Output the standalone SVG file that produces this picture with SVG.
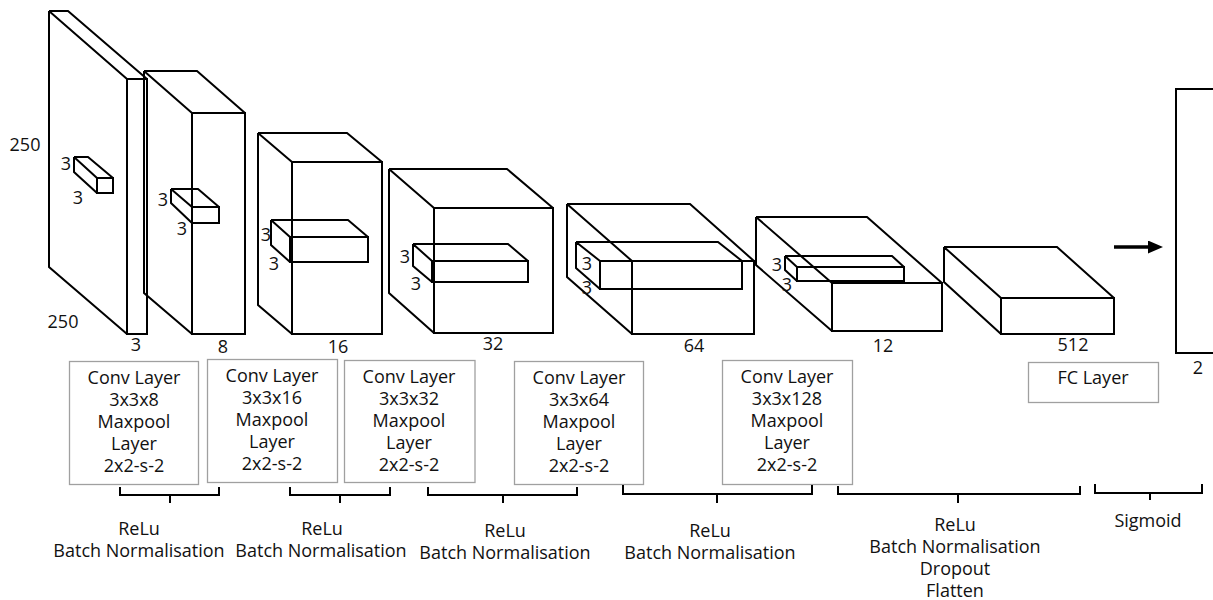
<svg xmlns="http://www.w3.org/2000/svg" width="1213" height="600" viewBox="0 0 1213 600">
<style>
.e{fill:none;stroke:#000;stroke-width:2;stroke-linejoin:miter}
.k{fill:none;stroke:#000;stroke-width:2}
.b{fill:#fff;stroke:#a0a0a0;stroke-width:1.3}
.br{fill:none;stroke:#000;stroke-width:2}
text{font-family:"Open Sans","Liberation Sans",sans-serif;font-size:18px;fill:#111;text-anchor:middle}
</style>
<defs>
<marker id="ah" markerUnits="userSpaceOnUse" markerWidth="16" markerHeight="13" refX="0" refY="6.5" orient="auto">
<path d="M0,0 L15,6.5 L0,13 z" fill="#000"/>
</marker>
</defs>
<rect width="1213" height="600" fill="#fff"/>

<g id="layer1">
<path class="e" d="M49,11 H68 L147,79 M49,11 L127,79 M49,11 V267 L127,334 M127,79 H147 V334 H127 Z"/>
<path class="k" d="M74,157 H88 L113,178 M74,157 L97,178 M74,157 V172 L97,193 M97,178 H113 V193 H97 Z"/>
<text x="66" y="170">3</text>
<text x="78" y="204">3</text>
<text x="25" y="151">250</text>
<text x="63" y="328">250</text>
<text x="136" y="351">3</text>
</g>

<g id="layer2">
<path class="e" d="M144,71 H197 L245,113 M144,71 L192,113 M144,71 V293 L192,334 M192,113 H245 V334 H192 Z"/>
<path class="k" d="M171,189 H198 L219,207 M171,189 L192,207 M171,189 V203 L192,223 M192,207 H219 V223 H192 Z"/>
<text x="163" y="206">3</text>
<text x="182" y="235">3</text>
<text x="223" y="353">8</text>
</g>

<g id="layer3">
<path class="e" d="M258,133 H347 L382,162 M258,133 L292,162 M258,133 V305 L292,334 M292,162 H382 V334 H292 Z"/>
<path class="k" d="M271,220 H348 L368,237 M271,220 L290,237 M271,220 V245 L290,262 M290,237 H368 V262 H290 Z"/>
<text x="266" y="241">3</text>
<text x="274" y="270">3</text>
<text x="338" y="353">16</text>
</g>

<g id="layer4">
<path class="e" d="M389,169 H507 L553,208 M389,169 L434,208 M389,169 V293 L434,333 M434,208 H553 V333 H434 Z"/>
<path class="k" d="M413,244 H508 L528,261 M413,244 L432,261 M413,244 V266 L432,282 M432,261 H528 V282 H432 Z"/>
<text x="405" y="263">3</text>
<text x="416" y="290">3</text>
<text x="493" y="350">32</text>
</g>

<g id="layer5">
<path class="e" d="M567,204 H690 L754,261 M567,204 L632,261 M567,204 V277 L632,334 M632,261 H754 V334 H632 Z"/>
<path class="k" d="M576,242 H718 L742,261 M576,242 L600,261 M576,242 V268 L600,289 M600,261 H742 V289 H600 Z"/>
<text x="587" y="270">3</text>
<text x="587" y="294">3</text>
<text x="694" y="352">64</text>
</g>

<g id="layer6">
<path class="e" d="M756,217 H867 L942,283 M756,217 L832,283 M756,217 V265 L832,331 M832,283 H942 V331 H832 Z"/>
<path class="k" d="M785,256 H892 L904,267 M785,256 L797,267 M785,256 V270 L797,281 M797,267 H904 V281 H797 Z"/>
<text x="777" y="271">3</text>
<text x="787" y="291">3</text>
<text x="883" y="352">12</text>
</g>

<g id="layer7">
<path class="e" d="M944,247 H1057 L1114,298 M944,247 L1001,298 M944,247 V282 L1001,334 M1001,298 H1114 V334 H1001 Z"/>
<text x="1073" y="351">512</text>
</g>

<g id="output">
<rect class="e" x="1176" y="89" width="60" height="264"/>
<text x="1198" y="374">2</text>
</g>

<g id="box1">
<rect class="b" x="69.5" y="361.5" width="129" height="123"/>
<text x="134" y="384">Conv Layer</text>
<text x="134" y="406">3x3x8</text>
<text x="134" y="428">Maxpool</text>
<text x="134" y="450">Layer</text>
<text x="134" y="472">2x2-s-2</text>
</g>
<g id="box2">
<rect class="b" x="207.5" y="359.5" width="130" height="123"/>
<text x="272" y="382">Conv Layer</text>
<text x="272" y="404">3x3x16</text>
<text x="272" y="426">Maxpool</text>
<text x="272" y="448">Layer</text>
<text x="272" y="470">2x2-s-2</text>
</g>
<g id="box3">
<rect class="b" x="344.5" y="360.5" width="130.5" height="122"/>
<text x="409" y="383">Conv Layer</text>
<text x="409" y="405">3x3x32</text>
<text x="409" y="427">Maxpool</text>
<text x="409" y="449">Layer</text>
<text x="409" y="471">2x2-s-2</text>
</g>
<g id="box4">
<rect class="b" x="514.5" y="361.5" width="129" height="123"/>
<text x="579" y="384">Conv Layer</text>
<text x="579" y="406">3x3x64</text>
<text x="579" y="428">Maxpool</text>
<text x="579" y="450">Layer</text>
<text x="579" y="472">2x2-s-2</text>
</g>
<g id="box5">
<rect class="b" x="722.5" y="360.5" width="130" height="124"/>
<text x="787" y="383">Conv Layer</text>
<text x="787" y="405">3x3x128</text>
<text x="787" y="427">Maxpool</text>
<text x="787" y="449">Layer</text>
<text x="787" y="471">2x2-s-2</text>
</g>
<g id="fc">
<rect class="b" x="1028.5" y="362.5" width="130" height="40"/>
<text x="1093" y="384">FC Layer</text>
</g>

<g id="activations">
<path class="br" d="M120,487 V495 H219 V487 M170,495 V503"/>
<text x="139" y="534.5">ReLu</text>
<text x="139" y="556.5">Batch Normalisation</text>
<path class="br" d="M290,487 V495 H390 V487 M340,495 V503"/>
<text x="322" y="534.5">ReLu</text>
<text x="321" y="556.5">Batch Normalisation</text>
<path class="br" d="M428,487 V495 H577 V487 M503,495 V503"/>
<text x="505" y="536.5">ReLu</text>
<text x="505" y="558.5">Batch Normalisation</text>
<path class="br" d="M623,485 V494 H812 V485 M717,494 V503"/>
<text x="710" y="536.5">ReLu</text>
<text x="710" y="558.5">Batch Normalisation</text>
<path class="br" d="M838,486 V494 H1080 V486 M958,494 V503"/>
<text x="955" y="530.5">ReLu</text>
<text x="955" y="552.5">Batch Normalisation</text>
<text x="955" y="574.5">Dropout</text>
<text x="955" y="596.5">Flatten</text>
<path class="br" d="M1095,484 V493 H1202 V484 M1150,493 V500"/>
<text x="1148" y="527">Sigmoid</text>
</g>

<g id="connectors">
<line x1="1114" y1="247" x2="1148" y2="247" stroke="#000" stroke-width="3.5" marker-end="url(#ah)"/>
</g>
</svg>
